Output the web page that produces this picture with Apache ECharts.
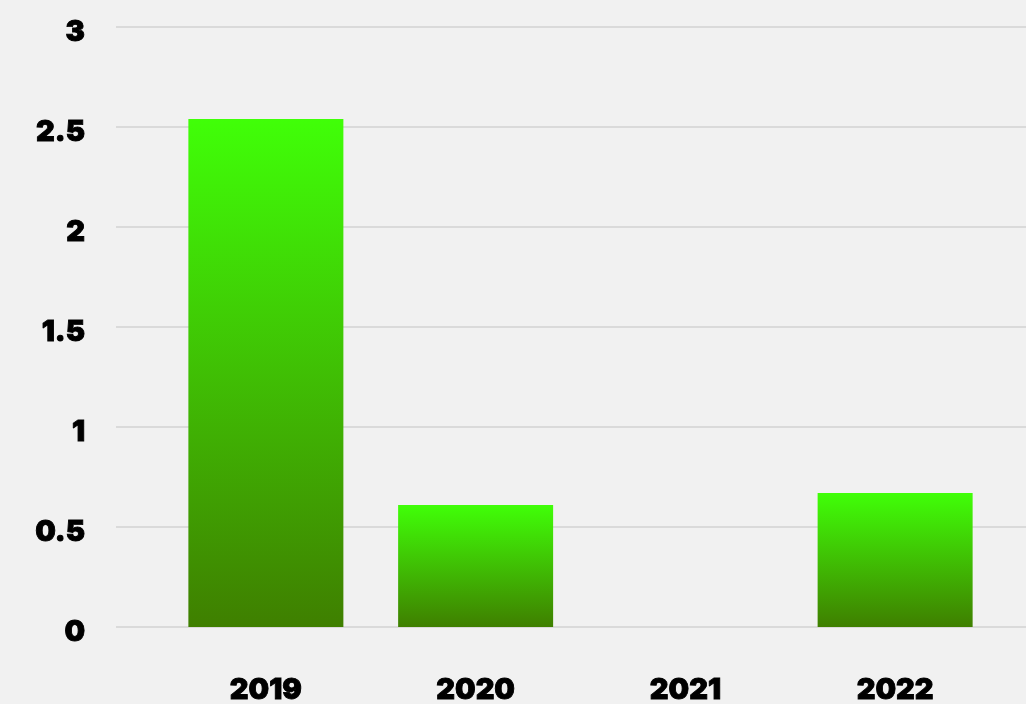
<!DOCTYPE html>
<html>
<head>
<meta charset="utf-8">
<script src="https://cdn.jsdelivr.net/npm/echarts@6/dist/echarts.min.js"></script>
<style>
  html, body { margin: 0; padding: 0; background: #f1f1f1; }
  #chart { width: 1026px; height: 704px; }
</style>
</head>
<body>
<div id="chart"></div>
<script>
// Yearly values
const years = ['2019', '2020', '2021', '2022'];
const values = [2.54, 0.61, 0, 0.67];
const yTicks = { min: 0, max: 3, interval: 0.5 };

const labelText = {
  fontFamily: 'Inter, "Open Sans", sans-serif',
  fontWeight: 900,
  fontSize: 29,
  color: '#000',
  textBorderColor: '#000',
  textBorderWidth: 0.9
};
const chart = echarts.init(document.getElementById('chart'));

chart.setOption({
  backgroundColor: '#f1f1f1',
  animation: false,
  grid: [
    // grid 0: value scale, tick labels and the horizontal split lines
    { left: 116, right: 0, top: 27, bottom: 77, outerBoundsMode: 'none' },
    // grid 1: the category band holding the bars
    { left: 161, width: 839, top: 27, bottom: 77, outerBoundsMode: 'none' }
  ],
  xAxis: [
    { gridIndex: 0, type: 'value', show: false, min: 0, max: 1 },
    {
      gridIndex: 1,
      type: 'category',
      data: years,
      axisLine: { show: false },
      axisTick: { show: false },
      axisLabel: Object.assign({ margin: 50, verticalAlign: 'top', lineHeight: 26 }, labelText)
    }
  ],
  yAxis: [
    {
      gridIndex: 0,
      type: 'value',
      min: yTicks.min,
      max: yTicks.max,
      interval: yTicks.interval,
      axisLine: { show: false },
      axisTick: { show: false },
      splitLine: { lineStyle: { color: '#d2d2d2', width: 1.5 } },
      axisLabel: Object.assign({ margin: 31, verticalAlign: 'top', lineHeight: 10 }, labelText)
    },
    {
      gridIndex: 1,
      type: 'value',
      min: yTicks.min,
      max: yTicks.max,
      show: false
    }
  ],
  series: [
    {
      type: 'bar',
      xAxisIndex: 1,
      yAxisIndex: 1,
      data: values,
      barWidth: 155,
      itemStyle: {
        color: new echarts.graphic.LinearGradient(0, 0, 0, 1, [
          { offset: 0, color: '#40ff08' },
          { offset: 1, color: '#3f7f00' }
        ])
      }
    }
  ]
});
</script>
</body>
</html>
